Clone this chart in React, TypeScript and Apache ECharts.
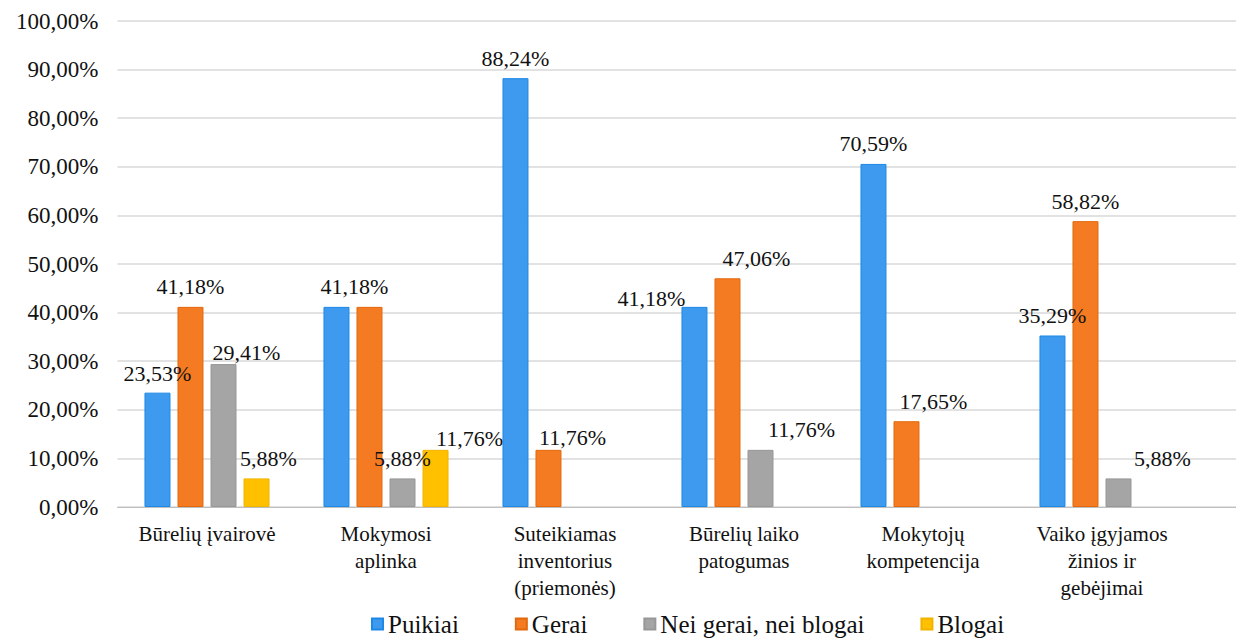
import React, { useEffect, useRef } from "react";
import * as echarts from "echarts";

const categories = [
  "Būrelių įvairovė",
  "Mokymosi\naplinka",
  "Suteikiamas\ninventorius\n(priemonės)",
  "Būrelių laiko\npatogumas",
  "Mokytojų\nkompetencija",
  "Vaiko įgyjamos\nžinios ir\ngebėjimai",
];

const seriesNames = ["Puikiai", "Gerai", "Nei gerai, nei blogai", "Blogai"];

const puikiai = [23.53, 41.18, 88.24, 41.18, 70.59, 35.29];
const gerai = [41.18, 41.18, 11.76, 47.06, 17.65, 58.82];
const neiGeraiNeiBlogai = [29.41, 5.88, null, 11.76, null, 5.88];
const blogai = [5.88, 11.76, null, null, null, null];

const yTicks = { min: 0, max: 100, interval: 10 };

const colors = ["#3D9AEE", "#F57B22", "#A5A5A5", "#FFC000"];
const borders = ["#1E88E5", "#E2690E", "#979797", "#F2B300"];

// label nudges [dx, dy] per series per category (as in the reference's label placement)
const labelNudges: Array<Array<[number, number] | null>> = [
  [[0, 1], [18, 0], [0, 0], [-43, 12], [0, 0], [0, 0]],
  [[0, 0], null, [24, 8], [29, 0], [27, 0], [0, 0]],
  [[23, 8], [0, 0], [0, 0], [41, 0], [0, 0], [44, 0]],
  [[12, 0], [34, 9], [0, 0], [0, 0], [0, 0], [0, 0]],
];

const FONT = '"Liberation Serif", serif';

const fmt = (v: number) => v.toFixed(2).replace(".", ",") + "%";

export default function App() {
  const ref = useRef<HTMLDivElement>(null);

  useEffect(() => {
    if (!ref.current) return;
    const chart = echarts.init(ref.current, null, { renderer: "svg" });
    const allValues = [puikiai, gerai, neiGeraiNeiBlogai, blogai];

    const series = allValues.map((vals, si) => ({
      name: seriesNames[si],
      type: "bar",
      xAxisIndex: 1,
      yAxisIndex: 1,
      barWidth: 26,
      barGap: "27%",
      itemStyle: { color: colors[si], borderColor: borders[si], borderWidth: 1 },
      label: {
        show: true,
        position: "top",
        distance: 9,
        fontFamily: FONT,
        fontSize: 22,
        color: "#111",
        formatter: (p: any) => fmt(p.value),
      },
      data: vals.map((v, ci) => {
        if (v === null) return { value: null, label: { show: false } };
        const n = labelNudges[si][ci];
        if (n === null) return { value: v, label: { show: false } };
        return { value: v, label: { offset: n } };
      }),
    }));

    chart.setOption({
      animation: false,
      backgroundColor: "#fff",
      textStyle: { fontFamily: FONT },
      color: colors,
      legend: {
        data: seriesNames,
        left: 371,
        top: 611,
        icon: "rect",
        itemWidth: 11,
        itemHeight: 11,
        itemGap: 56,
        padding: 0,
        textStyle: { fontFamily: FONT, fontSize: 25, lineHeight: 26, color: "#111" },
      },
      grid: [
        { left: 117.5, right: 0, top: 21, bottom: 133, containLabel: false },
        { left: 117.5, right: 44.5, top: 21, bottom: 133, containLabel: false },
      ],
      xAxis: [
        {
          type: "value",
          gridIndex: 0,
          min: 0,
          max: 1,
          axisLine: { show: true, lineStyle: { color: "#BFBFBF", width: 1 } },
          axisTick: { show: false },
          axisLabel: { show: false },
          splitLine: { show: false },
        },
        {
          type: "category",
          gridIndex: 1,
          data: categories,
          axisLine: { show: false },
          axisTick: { show: false },
          axisLabel: {
            interval: 0,
            margin: 13,
            fontFamily: FONT,
            fontSize: 21,
            lineHeight: 27,
            color: "#111",
          },
        },
      ],
      yAxis: [
        {
          type: "value",
          gridIndex: 0,
          min: yTicks.min,
          max: yTicks.max,
          interval: yTicks.interval,
          axisLine: { show: false },
          axisTick: { show: false },
          axisLabel: {
            margin: 19,
            fontFamily: FONT,
            fontSize: 23,
            color: "#111",
            formatter: (v: number) => fmt(v),
          },
          splitLine: { show: true, lineStyle: { color: "#D9D9D9", width: 1.5 } },
        },
        {
          type: "value",
          gridIndex: 1,
          min: yTicks.min,
          max: yTicks.max,
          interval: yTicks.interval,
          show: false,
          splitLine: { show: false },
        },
      ],
      series,
    });

    return () => chart.dispose();
  }, []);

  return (
    <div
      ref={ref}
      style={{ position: "fixed", left: 0, top: 0, width: 1236, height: 640, background: "#fff" }}
    />
  );
}
